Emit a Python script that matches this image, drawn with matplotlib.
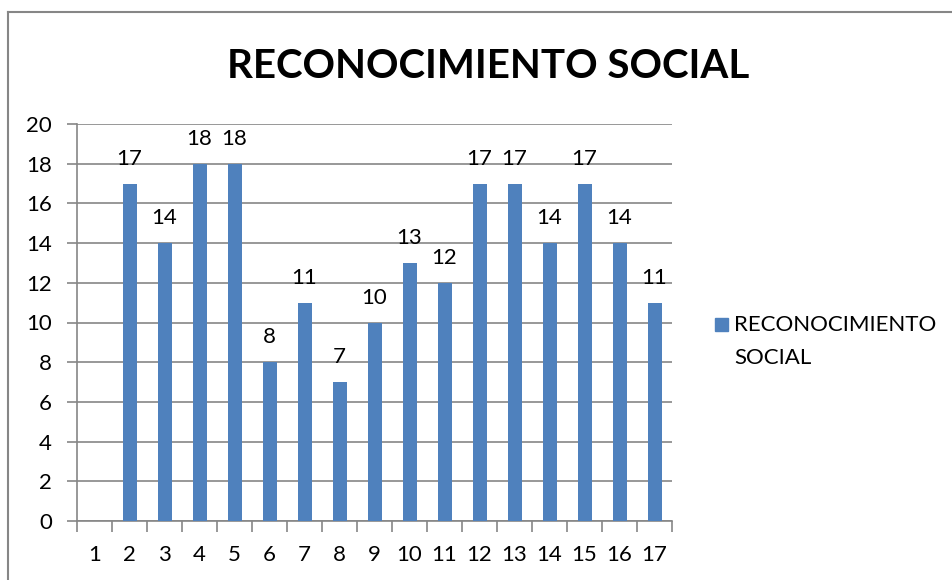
import matplotlib.pyplot as plt
from matplotlib.patches import Rectangle
import numpy as np

plt.rcParams['font.family'] = ['Lato', 'DejaVu Sans']

# datos
categorias = [str(i) for i in range(1, 18)]
valores = [np.nan, 17, 14, 18, 18, 8, 11, 7, 10, 13, 12, 17, 17, 14, 17, 14, 11]
serie = "RECONOCIMIENTO SOCIAL"
azul = "#4f81bd"
gris = "#868686"

fig = plt.figure(figsize=(9.53, 5.8), dpi=100)

# marco del grafico (borde gris)
fig.add_artist(plt.Line2D([8/953, 8/953], [0, 1 - 12/580], color=gris, lw=1.5))
fig.add_artist(plt.Line2D([8/953, 1], [1 - 12/580, 1 - 12/580], color=gris, lw=1.5))

ax = fig.add_axes([77/953, 1 - 521/580, (672 - 77)/953, (521 - 124)/580])

x = np.arange(len(categorias))
bars = ax.bar(x, valores, width=0.4, color=azul, label=serie, zorder=3)

for xi, v in zip(x, valores):
    if not np.isnan(v):
        ax.text(xi, v + 0.75, str(int(v)), ha='center', va='bottom', fontsize=16)

ax.set_xlim(-0.5, len(categorias) - 0.5)
ax.set_ylim(0, 20)
ax.set_yticks(range(0, 21, 2))
ax.set_xticks(x)
ax.set_xticklabels(categorias)
ax.set_xticks(np.arange(-0.5, len(categorias)), minor=True)
ax.tick_params(axis='x', which='major', length=0, pad=17, labelsize=16)
ax.tick_params(axis='x', which='minor', length=8, color=gris, width=1.2)
ax.tick_params(axis='y', length=7, color=gris, width=1.2, labelsize=16, pad=11)

ax.grid(axis='y', color=gris, lw=1.2, zorder=0)
for s in ['top', 'right']:
    ax.spines[s].set_visible(False)
ax.spines['left'].set_color(gris)
ax.spines['bottom'].set_color(gris)
ax.spines['left'].set_linewidth(1.2)
ax.spines['bottom'].set_linewidth(1.2)

fig.text(488/953, 1 - 66/580, "RECONOCIMIENTO SOCIAL", ha='center', va='center',
         fontsize=29, fontweight='bold')

# leyenda
fig.add_artist(Rectangle((715/953, 1 - 331/580), 13/953, 13/580,
                         transform=fig.transFigure, color=azul))
fig.text(734/953, 1 - 315/580, "RECONOCIMIENTO\nSOCIAL", ha='left', va='top',
         fontsize=16, linespacing=1.8)

fig.savefig("out.png", dpi=100)
